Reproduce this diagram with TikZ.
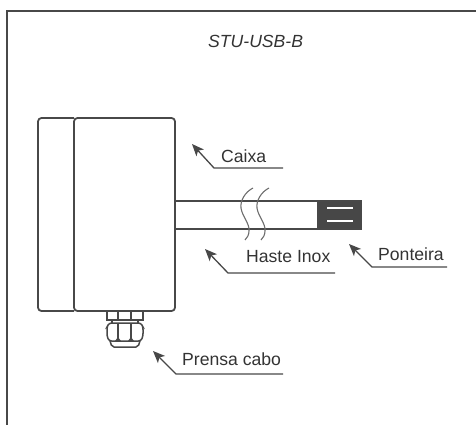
\documentclass[tikz,border=0pt]{standalone}
\usepackage{fontspec}
\setmainfont{Liberation Sans}
\usetikzlibrary{arrows.meta}
\definecolor{traco}{HTML}{484848}
\tikzset{
  contorno/.style={draw=traco, line width=1.8pt},
  peca/.style={draw=traco, line width=1.5pt},
  fino/.style={draw=traco!80, line width=1.1pt},
  rotulo/.style={anchor=base west, inner sep=0pt, text=black!80, font=\fontsize{17.6}{20}\selectfont},
  seta/.style={-{Stealth[length=12pt, width=10pt, inset=3pt]}, draw=traco, line width=1.3pt},
}
\begin{document}
\begin{tikzpicture}[x=1pt, y=-1pt]
  \useasboundingbox (0,0) rectangle (476,425);
  % 外框
  \draw[draw=traco, line width=2.2pt] (7,425) -- (7,11) -- (476,11);
  % 标题
  \node[rotulo, font=\fontsize{17.6}{20}\selectfont\itshape] (titulo) at (208,48) {STU-USB-B};
  % 盒体
  \draw[contorno, rounded corners=3.5pt] (74,118) -- (38,118) -- (38,311) -- (74,311);
  \draw[contorno, rounded corners=3.5pt] (74,118) rectangle (175,311);
  % 不锈钢管
  \draw[contorno] (175,201) -- (318,201);
  \draw[contorno] (175,229) -- (318,229);
  % 断裂线
  \foreach \x in {0,16}
  {
    \draw[fino] (253+\x,188) .. controls (245+\x,192) and (240+\x,201) .. (241+\x,208)
      .. controls (242+\x,216) and (250+\x,224) .. (249+\x,231)
      .. controls (249+\x,235) and (247+\x,238) .. (245+\x,240);
  }
  % 探头
  \draw[contorno, fill=black!72] (318,201) rectangle (361,229);
  \foreach \y in {208,221}
  {
    \draw[white, line width=2pt] (327,\y) -- (353,\y);
  }
  % 电缆接头
  \draw[peca] (107,311) -- (107,320) -- (143,320) -- (143,311);
  \draw[peca] (118,311) -- (118,320);
  \draw[peca] (131,311) -- (131,320);
  \draw[peca] (112,320) -- (112,323);
  \draw[peca] (138,320) -- (138,323);
  \draw[peca, rounded corners=2.5pt] (109,323) -- (141,323) -- (143,327) -- (143,336) -- (141,341) -- (109,341) -- (107,336) -- (107,327) -- cycle;
  \draw[peca, rounded corners=2pt] (110,341) -- (112,347) -- (138,347) -- (140,341);
  \foreach \x in {118,131}
  {
    \draw[peca] (\x,323) -- (\x,340);
    \fill[traco] (\x-3,341) -- (\x,337) -- (\x+3,341) -- cycle;
  }
  % 标注文字
  \node[rotulo] (caixa) at (221,162) {Caixa};
  \node[rotulo] (haste) at (246,262) {Haste Inox};
  \node[rotulo] (ponteira) at (378,260) {Ponteira};
  \node[rotulo] (prensa) at (182,365) {Prensa cabo};
  % 指示线
  \coordinate (caixaTip) at (192,144);
  \coordinate (caixaBend) at (214,168);
  \coordinate (caixaEnd) at (283,168);
  \coordinate (hasteTip) at (205,249);
  \coordinate (hasteBend) at (228,273);
  \coordinate (hasteEnd) at (335,273);
  \coordinate (ponteiraTip) at (349,244);
  \coordinate (ponteiraBend) at (372,267);
  \coordinate (ponteiraEnd) at (447,267);
  \coordinate (prensaTip) at (153,351);
  \coordinate (prensaBend) at (176,374);
  \coordinate (prensaEnd) at (283,374);
  \foreach \nome in {caixa,haste,ponteira,prensa}
  {
    \draw[seta] (\nome End) -- (\nome Bend) -- (\nome Tip);
  }
\end{tikzpicture}
\end{document}
